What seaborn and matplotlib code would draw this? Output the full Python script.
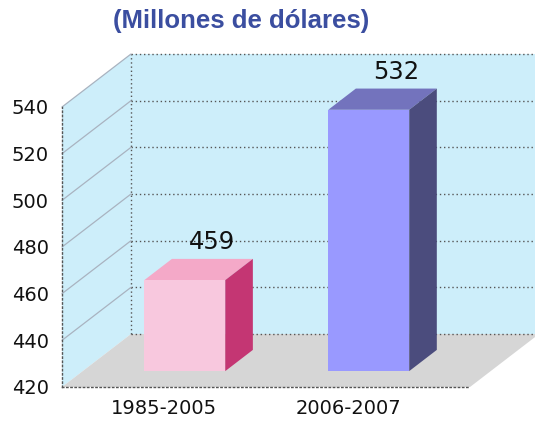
"""3D-style column chart: millions of dollars per period."""

import matplotlib
matplotlib.use("Agg")
import matplotlib.pyplot as plt
import matplotlib.patches as mpatches
import matplotlib.lines as mlines
import matplotlib.transforms as mtransforms
import numpy as np
import seaborn as sns


# Data
CATEGORIES = ["1985-2005", "2006-2007"]
VALUES = [459, 532]
YTICKS = [420, 440, 460, 480, 500, 520, 540]
TITLE = "(Millones de dólares)"

# Style
FRONT_COLORS = ["#f8c8de", "#9999ff"]
TOP_COLORS = ["#f4a9c8", "#7373bd"]
SIDE_COLORS = ["#c43673", "#4b4c7d"]
WALL_COLOR = "#cdeefa"
FLOOR_COLOR = "#d6d6d6"
TITLE_COLOR = "#3b4ea0"
DPI = 100
DX, DY = 69, 53          # depth offset of the back wall, pixels
BAR_FRONT, BAR_BACK = 0.3, 0.7
XLIM = (-0.555, 1.663)


def shiftTransform(fig, ax, dx_px, dy_px):
  """
  Data transform shifted by a pixel offset.
  """
  return ax.transData + mtransforms.ScaledTranslation(
      dx_px / DPI, dy_px / DPI, fig.dpi_scale_trans)

def toPixels(ax, x, y, depth):
  """
  Display coordinates of a data point pushed back by depth (0..1).
  """
  px = ax.transData.transform((x, y))
  return px + depth * np.array([DX, DY])

def addPolygon(ax, points, color, zorder):
  poly = mpatches.Polygon(np.array(points), closed=True, facecolor=color,
      edgecolor="none", transform=mtransforms.IdentityTransform(),
      clip_on=False, zorder=zorder)
  ax.add_patch(poly)

def addLine(ax, p0, p1, zorder, **kwargs):
  line = mlines.Line2D([p0[0], p1[0]], [p0[1], p1[1]],
      transform=mtransforms.IdentityTransform(), clip_on=False,
      zorder=zorder, **kwargs)
  ax.add_line(line)


sns.set_style("white")
plt.rcParams["font.family"] = ["DejaVu Sans"]

fig = plt.figure(figsize=(5.35, 4.22), dpi=DPI)
ax = fig.add_axes([62 / 535, 35 / 422, 408 / 535, 280 / 422])
ax.patch.set_visible(False)

sns.barplot(x=CATEGORIES, y=VALUES, hue=CATEGORIES, palette=FRONT_COLORS,
    width=0.44, saturation=1, legend=False, linewidth=0, edgecolor="none",
    ax=ax)
ax.set_xlim(*XLIM)
ax.set_ylim(YTICKS[0], YTICKS[-1])
ymin, ymax = YTICKS[0], YTICKS[-1]
x0, x1 = XLIM

# Walls and floor
back = mpatches.Rectangle((x0, ymin), x1 - x0, ymax - ymin,
    facecolor=WALL_COLOR, edgecolor="none", clip_on=False, zorder=0.1,
    transform=shiftTransform(fig, ax, DX, DY))
ax.add_patch(back)
addPolygon(ax, [toPixels(ax, x0, ymin, 0), toPixels(ax, x0, ymax, 0),
    toPixels(ax, x0, ymax, 1), toPixels(ax, x0, ymin, 1)], WALL_COLOR, 0.2)
addPolygon(ax, [toPixels(ax, x0, ymin, 0), toPixels(ax, x1, ymin, 0),
    toPixels(ax, x1, ymin, 1), toPixels(ax, x0, ymin, 1)], FLOOR_COLOR, 0.2)

# Grid on back wall and side wall
dotted = (0, (1, 2))
ax.hlines(YTICKS, x0, x1, colors="#555555", linewidth=1, linestyles=dotted,
    transform=shiftTransform(fig, ax, DX, DY), clip_on=False, zorder=0.3)
ax.vlines([x0], ymin, ymax, colors="#555555", linewidth=1,
    linestyles=dotted, transform=shiftTransform(fig, ax, DX, DY),
    clip_on=False, zorder=0.3)
for tick in YTICKS[1:]:
  addLine(ax, toPixels(ax, x0, tick, 0), toPixels(ax, x0, tick, 1), 0.3,
      color="#a9b3c0", linewidth=0.9)

# Bars: front faces come from seaborn, top and side faces are added
for idx, (patch, value) in enumerate(zip(ax.patches[:len(VALUES)], VALUES)):
  left = patch.get_x()
  right = left + patch.get_width()
  patch.set_y(ymin)
  patch.set_height(value - ymin)
  patch.set_transform(shiftTransform(fig, ax, BAR_FRONT * DX, BAR_FRONT * DY))
  patch.set_clip_on(False)
  patch.set_edgecolor("none")
  patch.set_linewidth(0)
  patch.set_zorder(2.5)
  addPolygon(ax, [toPixels(ax, left, value, BAR_FRONT),
      toPixels(ax, right, value, BAR_FRONT),
      toPixels(ax, right, value, BAR_BACK),
      toPixels(ax, left, value, BAR_BACK)], TOP_COLORS[idx], 2)
  addPolygon(ax, [toPixels(ax, right, ymin, BAR_FRONT),
      toPixels(ax, right, value, BAR_FRONT),
      toPixels(ax, right, value, BAR_BACK),
      toPixels(ax, right, ymin, BAR_BACK)], SIDE_COLORS[idx], 2)
  center = (left + right) / 2
  ax.text(center, value, "%d" % value, ha="center", va="baseline",
      fontsize=17.5, color="#111111",
      transform=shiftTransform(fig, ax, BAR_BACK * DX, BAR_BACK * DY + 10))

# Axes decoration
for side in ["top", "right"]:
  ax.spines[side].set_visible(False)
for side in ["left", "bottom"]:
  ax.spines[side].set_linestyle(dotted)
  ax.spines[side].set_color("#555555")
  ax.spines[side].set_linewidth(1)
ax.set_yticks(YTICKS)
ax.set_yticklabels([str(t) for t in YTICKS])
ax.tick_params(axis="y", length=3, width=1, color="#777777", pad=6.5,
    labelsize=14, labelcolor="#111111")
ax.set_xticks(range(len(CATEGORIES)))
ax.set_xticklabels(CATEGORIES)
ax.set_xticks([(x0 + x1) / 2, x1], minor=True)
ax.tick_params(axis="x", which="major", length=0, pad=8.5, labelsize=14,
    labelcolor="#111111")
ax.tick_params(axis="x", which="minor", length=4, width=1.4, color="black")
ax.set_xlabel("")
ax.set_ylabel("")

fig.text(241.5 / 535, 1 - 21 / 422, TITLE, ha="center", va="center",
    fontsize=18.5, fontweight="bold", family="Liberation Sans",
    color=TITLE_COLOR)

fig.savefig("out.png", dpi=DPI)
